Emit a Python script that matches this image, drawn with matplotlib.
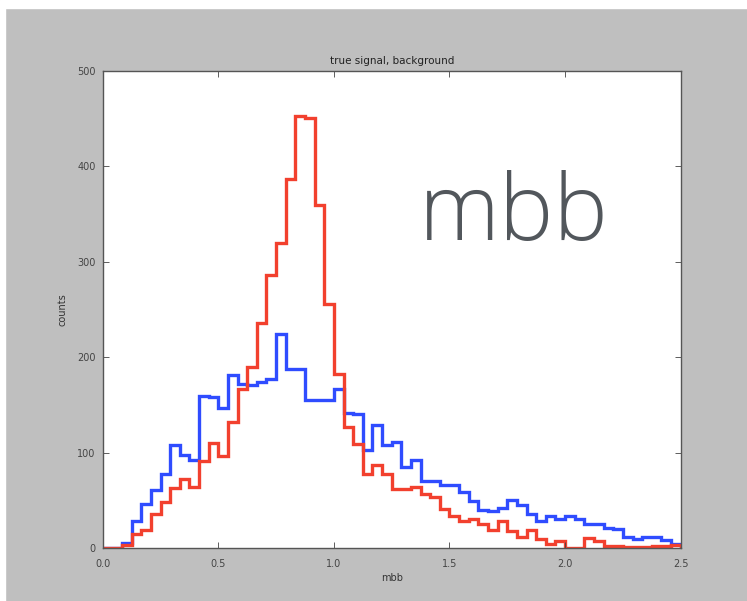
import numpy as np
import matplotlib
matplotlib.use("Agg")
import matplotlib.pyplot as plt

# 60 equal bins of mbb between 0 and 2.5
EDGES = np.linspace(0.0, 2.5, 61)

SIGNAL = [0, 0, 3, 15, 19, 36, 48, 63, 72, 64,
          91, 110, 96, 132, 167, 190, 236, 286, 319, 387,
          452, 450, 359, 256, 182, 127, 109, 78, 87, 77,
          62, 62, 64, 57, 53, 41, 33, 28, 30, 25,
          19, 28, 18, 12, 19, 9, 4, 7, 0, 0,
          10, 7, 2, 2, 1, 1, 1, 2, 2, 3]

BACKGROUND = [0, 0, 5, 28, 46, 61, 77, 108, 97, 92,
              159, 158, 147, 181, 172, 171, 174, 177, 224, 188,
              188, 155, 155, 155, 167, 141, 140, 103, 129, 108,
              111, 85, 92, 70, 70, 66, 66, 59, 49, 40,
              39, 42, 50, 45, 36, 28, 33, 30, 33, 30,
              25, 25, 21, 20, 12, 9, 11, 11, 8, 4]

TITLE = "true signal, background"
XLABEL = "mbb"
YLABEL = "counts"
XTICKS = [0.0, 0.5, 1.0, 1.5, 2.0, 2.5]
YTICKS = [0, 100, 200, 300, 400, 500]

fig = plt.figure(figsize=(7.47, 6.01), dpi=100, facecolor="#bfbfbf")
ax = fig.add_axes([0.1375, 0.0882, 0.7737, 0.7942])
ax.set_facecolor("white")

ax.stairs(BACKGROUND, EDGES, baseline=0, color="#2f4cff", lw=2.4)
ax.stairs(SIGNAL, EDGES, baseline=0, color="#f2402e", lw=2.4)

ax.set_xlim(0, 2.5)
ax.set_ylim(0, 500)
ax.set_xticks(XTICKS)
ax.set_xticklabels([f"{t:.1f}" for t in XTICKS])
ax.set_yticks(YTICKS)
ax.tick_params(direction="in", length=4, width=0.6, top=True, right=True,
               labelsize=7, colors="#444444")
ax.tick_params(axis="x", pad=8)
ax.tick_params(axis="y", pad=5)
for s in ax.spines.values():
    s.set_color("#555555")
    s.set_linewidth(1.0)

ax.set_title(TITLE, fontsize=7.5, color="#222222", pad=5)
ax.set_xlabel(XLABEL, fontsize=7, color="#333333", labelpad=3)
ax.set_ylabel(YLABEL, fontsize=7, color="#333333", labelpad=7)

ax.text(0.711, 0.645, "mbb", transform=ax.transAxes, fontsize=66,
        family=["Open Sans", "DejaVu Sans"], fontweight=300, color="#52575c",
        ha="center", va="baseline")

# white strips round the grey panel
fig.patches.append(plt.Rectangle((0, 0.987), 1, 0.013, transform=fig.transFigure,
                                 color="white", zorder=-1))
fig.patches.append(plt.Rectangle((0, 0), 0.007, 1, transform=fig.transFigure,
                                 color="white", zorder=-1))

fig.savefig("out.png", dpi=100, facecolor=fig.get_facecolor())
